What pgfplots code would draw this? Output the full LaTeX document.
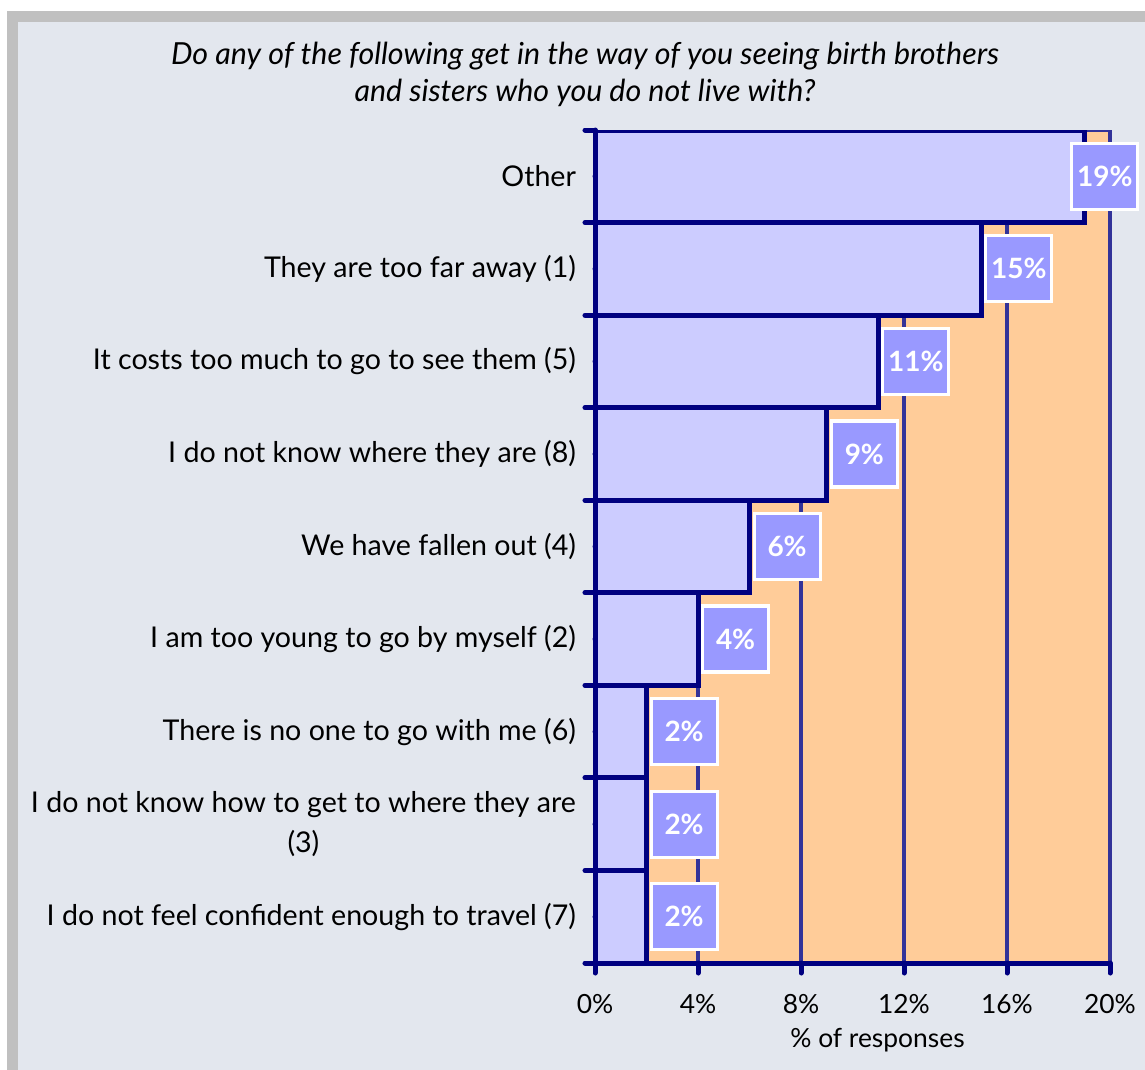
\documentclass[border=0pt]{standalone}
\usepackage{pgfplots}
\pgfplotsset{compat=1.18}
\usepackage{fontspec}
\setmainfont{Lato}
\definecolor{outerbg}{HTML}{E3E7EE}
\definecolor{framegray}{HTML}{C0C0C0}
\definecolor{plotbg}{HTML}{FFCC99}
\definecolor{barfill}{HTML}{CCCCFF}
\definecolor{navyc}{HTML}{000080}
\definecolor{gridblue}{HTML}{333399}
\definecolor{labelbg}{HTML}{9999FF}
\begin{document}
\begin{tikzpicture}
\fill[white] (0,0) rectangle (572.5pt,-535pt);
\fill[framegray] (3.5pt,-5.5pt) rectangle (572.5pt,-535pt);
\fill[outerbg] (9pt,-11pt) rectangle (572.5pt,-535pt);
\node[font=\fontsize{15.2}{18.5}\selectfont\itshape, align=center] at (292.5pt,-37pt)
  {Do any of the following get in the way of you seeing birth brothers\\and sisters who you do not live with?};
\begin{axis}[
  at={(297.5pt,-481.5pt)}, anchor=south west,
  scale only axis, width=257.5pt, height=416.5pt,
  xbar, bar width=1, bar shift=0pt,
  xmin=0, xmax=20, ymin=-0.5, ymax=8.5,
  axis background/.style={fill=plotbg},
  axis x line*=bottom, axis y line*=left,
  axis line style={navyc, line width=2.5pt, line cap=round},
  every tick/.style={navyc, line width=2.5pt, line cap=round},
  tick align=outside,
  major tick length=5pt,
  xtick={0,4,...,20},
  xticklabel={\pgfmathprintnumber{\tick}\%},
  /pgf/number format/assume math mode=true,
  xticklabel style={font=\fontsize{13.2}{15}\selectfont, yshift=-7pt},
  xlabel={\% of responses},
  xlabel style={font=\fontsize{13.2}{15}\selectfont, yshift=-0.5pt, xshift=12.5pt},
  ytick={-0.5,0.5,...,8.5},
  yticklabels={{},{},{},{},{},{},{},{},{},{}},
  extra y ticks={0,1,2,3,4,5,6,7,8},
  extra y tick labels={I do not feel confident enough to travel (7),
    {I do not know how to get to where they are\\(3)},
    There is no one to go with me (6),
    I am too young to go by myself (2),
    We have fallen out (4),
    I do not know where they are (8),
    It costs too much to go to see them (5),
    They are too far away (1),
    Other},
  extra y tick style={major tick length=0pt, yticklabel style={font=\fontsize{14.3}{20}\selectfont, align=center, anchor=east, xshift=-6pt}},
  xmajorgrids,
  major x grid style={gridblue, line width=2pt},
  nodes near coords={\pgfmathprintnumber{\pgfplotspointmeta}\%},
  every node near coord/.append style={anchor=west, fill=labelbg, draw=white, line width=1.6pt,
     text=white, font=\bfseries\fontsize{14}{14}\selectfont, minimum width=33pt, minimum height=33pt,
     inner sep=0pt, xshift=1.5pt},
]
\draw[gridblue, line width=2pt] (axis cs:0,8.5) -- (axis cs:20,8.5);
\addplot[fill=barfill, draw=navyc, line width=2.5pt] coordinates {
 (2,0) (2,1) (2,2) (4,3) (6,4) (9,5) (11,6) (15,7)};
\addplot[fill=barfill, draw=navyc, line width=2.5pt,
  every node near coord/.append style={xshift=-8.5pt}] coordinates {(19,8)};
\end{axis}
\pgfresetboundingbox
\useasboundingbox (0,0) rectangle (572.5pt,-535pt);
\end{tikzpicture}
\end{document}
